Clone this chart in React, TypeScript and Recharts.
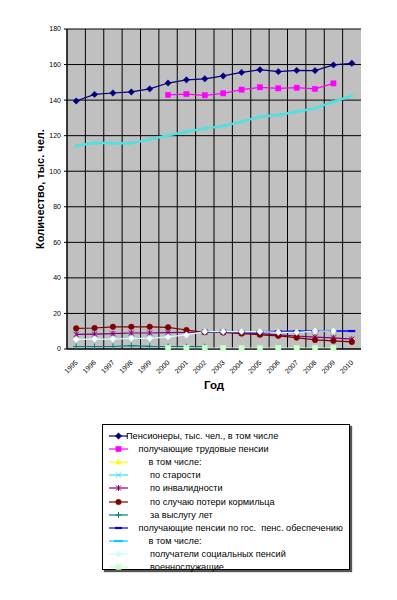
import React from 'react';
import { LineChart, Line, XAxis, YAxis, CartesianGrid, Legend } from 'recharts';

const years = ['1995','1996','1997','1998','1999','2000','2001','2002','2003','2004','2005','2006','2007','2008','2009','2010'];
const yTicks = [0, 20, 40, 60, 80, 100, 120, 140, 160, 180];

const pensioners = [139.5,143.2,144.0,144.6,146.3,149.6,151.4,152.0,153.6,155.6,157.1,156.0,156.7,156.6,159.8,160.7];
const labour = [null,null,null,null,null,142.9,143.4,142.7,143.8,145.9,147.2,146.6,147.0,146.3,149.4,null];
const labourIncl = [null,null,null,null,null,null,null,null,null,null,null,null,null,null,null,null];
const oldAge = [114.2,116.0,115.7,115.7,117.9,120.2,122.2,124.1,125.4,127.9,130.7,131.6,133.5,135.4,139.1,142.3];
const disability = [8.2,8.4,8.6,9.0,9.0,9.2,9.4,9.6,9.6,9.0,8.6,8.0,7.3,6.7,6.3,5.5];
const survivor = [11.6,11.8,12.5,12.5,12.5,12.2,10.7,9.4,9.3,8.7,8.0,7.4,6.4,5.1,4.6,4.0];
const longService = [1.4,1.4,1.4,1.9,1.5,1.4,1.3,1.3,null,null,null,null,null,null,null,null];
const stateProv = [null,null,null,null,null,null,null,9.7,9.7,9.7,9.7,9.9,10.0,10.1,10.1,10.1];
const stateIncl = [null,null,null,null,null,null,null,null,null,null,null,null,null,null,null,null];
const social = [5.4,5.6,5.6,6.0,6.0,6.8,7.9,9.8,9.8,9.8,9.8,9.4,9.4,10.1,10.1,null];
const military = [null,null,null,null,null,0.5,0.5,0.5,0.5,0.5,0.5,0.5,0.5,0.5,0.5,null];

const seriesNames = [
  'Пенсионеры, тыс. чел., в том числе',
  'получающие трудовые пенсии',
  'в том числе:',
  'по старости',
  'по инвалидности',
  'по случаю потери кормильца',
  'за выслугу лет',
  'получающие пенсии по гос.  пенс. обеспечению',
  'в том числе:',
  'получатели социальных пенсий',
  'военнослужащие',
];
const seriesValues = [pensioners, labour, labourIncl, oldAge, disability, survivor, longService, stateProv, stateIncl, social, military];

const seriesStyle = [
  { color: '#000080', marker: 'diamond', width: 1.2, indent: 24 },
  { color: '#FF00FF', marker: 'square', width: 1.2, indent: 36.5 },
  { color: '#FFFF00', marker: 'triangle', width: 1.2, indent: 46.5 },
  { color: '#4FE0E0', marker: 'x', width: 2.5, indent: 48, legendColor: '#33E6E6' },
  { color: '#800080', marker: 'star', width: 1.2, indent: 48 },
  { color: '#800000', marker: 'circle', width: 1.2, indent: 48 },
  { color: '#008080', marker: 'plus', width: 1.2, indent: 48 },
  { color: '#0000FF', marker: 'dash', width: 1.5, indent: 36.5 },
  { color: '#00CCFF', marker: 'longdash', width: 1.2, indent: 46.5 },
  { color: '#CCFFFF', marker: 'diamond', width: 1.2, indent: 48, dotFill: '#F2FFFF' },
  { color: '#CCFFCC', marker: 'square', width: 1.2, indent: 48 },
];

const data = years.map((y, i) => {
  const row: any = { year: y };
  seriesValues.forEach((vals, k) => { row['s' + k] = vals[i]; });
  return row;
});

function marker(shape: string, x: number, y: number, color: string, fill?: string) {
  const f = fill || color;
  switch (shape) {
    case 'diamond':
      return <polygon points={`${x},${y - 3.2} ${x + 3.2},${y} ${x},${y + 3.2} ${x - 3.2},${y}`} fill={f} stroke={color} strokeWidth={0.5} />;
    case 'square':
      return <rect x={x - 2.6} y={y - 2.6} width={5.2} height={5.2} fill={f} stroke={color} strokeWidth={0.5} />;
    case 'triangle':
      return <polygon points={`${x},${y - 3} ${x + 3},${y + 2.5} ${x - 3},${y + 2.5}`} fill={f} />;
    case 'x':
      return <g stroke={color} strokeWidth={1}><line x1={x - 2.5} y1={y - 2.5} x2={x + 2.5} y2={y + 2.5} /><line x1={x - 2.5} y1={y + 2.5} x2={x + 2.5} y2={y - 2.5} /></g>;
    case 'star':
      return <g stroke={color} strokeWidth={1}><line x1={x - 2.5} y1={y - 2.5} x2={x + 2.5} y2={y + 2.5} /><line x1={x - 2.5} y1={y + 2.5} x2={x + 2.5} y2={y - 2.5} /><line x1={x} y1={y - 3} x2={x} y2={y + 3} /></g>;
    case 'circle':
      return <circle cx={x} cy={y} r={2.8} fill={f} stroke={color} strokeWidth={0.5} />;
    case 'plus':
      return <g stroke={color} strokeWidth={1}><line x1={x - 3} y1={y} x2={x + 3} y2={y} /><line x1={x} y1={y - 3} x2={x} y2={y + 3} /></g>;
    case 'dash':
      return <line x1={x - 3.5} y1={y} x2={x + 3.5} y2={y} stroke={color} strokeWidth={2.2} />;
    case 'longdash':
      return <line x1={x - 4.5} y1={y} x2={x + 4.5} y2={y} stroke={color} strokeWidth={2.2} />;
    default:
      return null;
  }
}

function makeDot(k: number) {
  const st = seriesStyle[k];
  return (props: any) => {
    const { cx, cy, value, index } = props;
    if (value == null || cx == null || cy == null || isNaN(cx) || isNaN(cy)) return <g key={`d${k}-${index}`} />;
    return <g key={`d${k}-${index}`}>{marker(st.marker, cx, cy, st.color, st.dotFill)}</g>;
  };
}

const FONT = '"Liberation Sans", Arial, sans-serif';
const HALF_BAND = 294 / 16 / 2;

const XTick = (props: any) => {
  const { x, y, payload } = props;
  return (
    <text x={x + 2} y={y + 6} transform={`rotate(-45 ${x + 2} ${y + 6})`} textAnchor="end" fontSize={7} fontFamily={FONT} fill="#000">
      {payload.value}
    </text>
  );
};

const LegendBox = () => (
  <div style={{ position: 'relative', width: 248, height: 146, background: '#fff', border: '1px solid #000', boxShadow: '2px 2px 1px #555', boxSizing: 'border-box', fontFamily: FONT }}>
    {seriesNames.map((name, k) => {
      const st = seriesStyle[k];
      const cy = 11 + k * 13.1;
      const col = st.legendColor || st.color;
      return (
        <div key={k} style={{ position: 'absolute', left: 0, top: cy - 6, height: 12, width: 246 }}>
          <svg width={30} height={12} style={{ position: 'absolute', left: 0, top: 0 }}>
            <line x1={6} y1={6} x2={25} y2={6} stroke={col} strokeWidth={1.2} />
            {marker(st.marker, 15.5, 6, col, st.dotFill ? col : undefined)}
          </svg>
          <span style={{ position: 'absolute', left: st.indent - 1, top: 0, fontSize: 9.2, lineHeight: '12px', whiteSpace: 'pre', color: '#000' }}>{name}</span>
        </div>
      );
    })}
  </div>
);

export default function App() {
  return (
    <div style={{ position: 'absolute', left: 0, top: 0, width: 397, height: 600, background: '#fff' }}>
      <LineChart width={397} height={600} data={data} margin={{ top: 29, right: 36, left: 10, bottom: 209 }}>
        <CartesianGrid
          fill="#C0C0C0"
          stroke="#000"
          strokeOpacity={1}
          verticalCoordinatesGenerator={({ offset }: any) => Array.from({ length: 16 }, (_, i) => offset.left + (i * offset.width) / 16)}
        />
        <XAxis
          dataKey="year"
          height={42}
          padding={{ left: HALF_BAND, right: HALF_BAND }}
          tick={<XTick />}
          tickLine={false}
          axisLine={{ stroke: '#000' }}
          interval={0}
          label={{ value: 'Год', position: 'insideBottom', offset: 2, style: { fontSize: 11.5, fontWeight: 'bold', fontFamily: FONT, fill: '#000' } }}
        />
        <YAxis
          width={57}
          domain={[0, 180]}
          ticks={yTicks}
          interval={0}
          tickSize={3}
          tickMargin={3}
          tick={{ fontSize: 7, fill: '#000', fontFamily: FONT }}
          axisLine={{ stroke: '#000' }}
          tickLine={{ stroke: '#000' }}
          label={{ value: 'Количество, тыс. чел.', angle: -90, position: 'center', dx: 1.5, style: { fontSize: 11, fontWeight: 'bold', fontFamily: FONT, fill: '#000', textAnchor: 'middle' } }}
        />
        {seriesValues.map((_, k) => (
          <Line
            key={k}
            type="linear"
            dataKey={'s' + k}
            name={seriesNames[k]}
            stroke={seriesStyle[k].color}
            strokeWidth={seriesStyle[k].width}
            dot={makeDot(k)}
            activeDot={false}
            isAnimationActive={false}
          />
        ))}
        <Legend
          layout="horizontal"
          verticalAlign="middle"
          align="center"
          content={<LegendBox />}
          wrapperStyle={{ position: 'absolute', left: 102, top: 424, width: 248, height: 146, margin: 0 }}
        />
      </LineChart>
    </div>
  );
}
